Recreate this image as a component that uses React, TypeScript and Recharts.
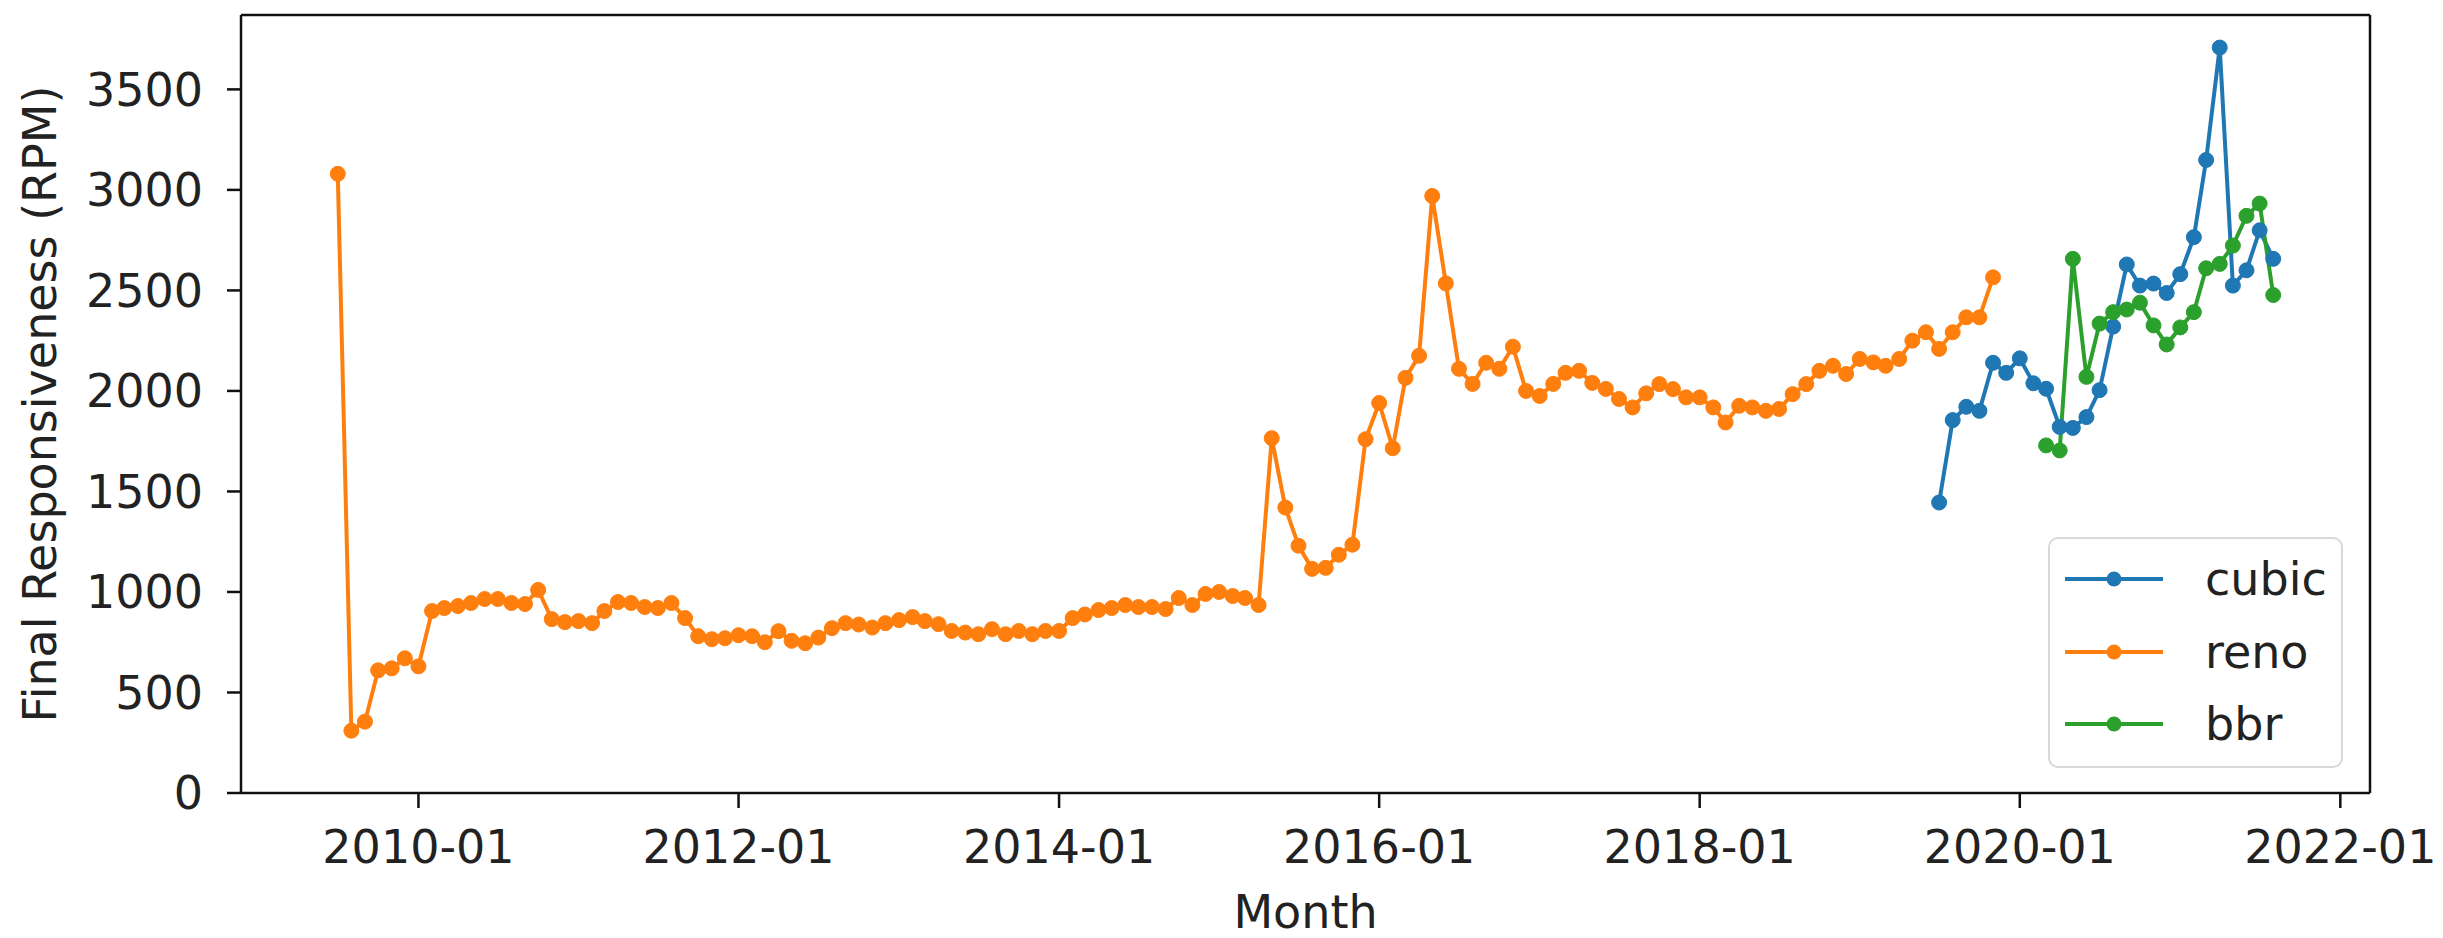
import React from 'react';
import { LineChart, Line, XAxis, YAxis, Legend } from 'recharts';

// first month of each series (RPM)
const renoStart = '2009-07';
const cubicStart = '2019-07';
const bbrStart = '2020-03';

const renoValues = [
    3080, 310, 355, 610, 620, 670,
    630, 905, 920, 930, 945, 965, 965, 945, 940, 1010, 865, 850,
    855, 845, 905, 950, 945, 925, 920, 945, 870, 780, 765, 770,
    785, 780, 750, 805, 757, 745, 773, 820, 845, 838, 823, 845,
    860, 875, 855, 840, 806, 798, 790, 815, 790, 806, 790, 806,
    806, 870, 888, 910, 920, 935, 925, 925, 915, 970, 935, 990,
    1000, 980, 970, 935, 1765, 1420, 1230, 1115, 1120, 1185, 1235, 1760,
    1940, 1715, 2065, 2175, 2970, 2535, 2110, 2035, 2140, 2110, 2220, 2000,
    1975, 2035, 2090, 2100, 2040, 2010, 1960, 1918, 1988, 2034, 2009, 1968,
    1968, 1918, 1843, 1926, 1918, 1901, 1910, 1984, 2034, 2100, 2125, 2084,
    2159, 2142, 2125, 2159, 2250, 2292, 2209, 2292, 2366, 2366, 2565,
];

const cubicValues = [
    1445, 1855, 1921, 1901, 2140, 2090,
    2162, 2038, 2011, 1821, 1816, 1870, 2004, 2320, 2629, 2524, 2534, 2487,
    2581, 2765, 3149, 3708, 2524, 2600, 2799, 2657,
];

const bbrValues = [
    1729, 1704, 2657, 2070, 2335, 2392, 2405, 2439, 2326, 2231,
    2316, 2392, 2610, 2632, 2723, 2871, 2932, 2477,
];

const seriesOrder = ['cubic', 'reno', 'bbr'];
const xTickLabels = ['2010-01', '2012-01', '2014-01', '2016-01', '2018-01', '2020-01', '2022-01'];
const yTicks = [0, 500, 1000, 1500, 2000, 2500, 3000, 3500];

const colors = { cubic: '#1f77b4', reno: '#ff7f0e', bbr: '#2ca02c' };
const FONT = '"DejaVu Sans", sans-serif';
const FS = 46;

const monthRange = (start: string, count: number) => {
    const [y, m] = start.split('-').map(Number);
    return Array.from({ length: count }, (_, i) => {
        const total = y * 12 + (m - 1) + i;
        return `${Math.floor(total / 12)}-${String((total % 12) + 1).padStart(2, '0')}`;
    });
};

const toDay = (label: string) => {
    const [y, m] = label.split('-').map(Number);
    return Date.UTC(y, m - 1, 1) / 86400000;
};

const fmtDay = (t: number) => {
    const d = new Date(Math.round(t) * 86400000);
    return `${d.getUTCFullYear()}-${String(d.getUTCMonth() + 1).padStart(2, '0')}`;
};

const toRows = (start: string, values: number[]) =>
    monthRange(start, values.length).map((month, i) => ({ t: toDay(month), value: values[i] }));

const renoData = toRows(renoStart, renoValues);
const cubicData = toRows(cubicStart, cubicValues);
const bbrData = toRows(bbrStart, bbrValues);

// matplotlib style 5% margins on x, y pinned at 0
const allT = [...renoData, ...cubicData, ...bbrData].map(d => d.t);
const tMin = Math.min(...allT);
const tMax = Math.max(...allT);
const pad = (tMax - tMin) * 0.05;
const xDomain = [tMin - pad, tMax + pad];
const yDomain = [0, 3870];

const spine = { stroke: '#111', strokeWidth: 2.5 };
const LW = 4;
const DOT_R = 7.5;

const renderLegend = (props: any) => {
    const items = [...(props.payload || [])].sort(
        (a: any, b: any) => seriesOrder.indexOf(a.value) - seriesOrder.indexOf(b.value)
    );
    return (
        <div
            style={{
                boxSizing: 'border-box',
                width: 295,
                height: 231,
                border: '2px solid #d9d9d9',
                borderRadius: 10,
                background: 'rgba(255,255,255,0.85)',
                paddingTop: 4,
                fontFamily: FONT,
                fontSize: FS,
                color: '#222',
            }}
        >
            {items.map((entry: any) => (
                <div key={entry.value} style={{ display: 'flex', alignItems: 'center', height: 72.5 }}>
                    <svg width={155} height={30} style={{ flex: 'none' }}>
                        <line x1={15} x2={113} y1={15} y2={15} stroke={entry.color} strokeWidth={LW} />
                        <circle cx={64} cy={15} r={DOT_R} fill={entry.color} />
                    </svg>
                    <span style={{ lineHeight: 1 }}>{entry.value}</span>
                </div>
            ))}
        </div>
    );
};

const App: React.FC = () => {
    const tickStyle = { fontSize: FS, fontFamily: FONT, fill: '#222' };
    return (
        <div style={{ position: 'absolute', left: 0, top: 0, background: '#fff' }}>
            <LineChart width={2443} height={938} margin={{ top: 13, right: 71, bottom: 0, left: 0 }}>
                <XAxis
                    dataKey="t"
                    type="number"
                    domain={xDomain}
                    allowDataOverflow
                    ticks={xTickLabels.map(toDay)}
                    tickFormatter={fmtDay}
                    height={145}
                    tick={tickStyle}
                    tickSize={15}
                    tickMargin={22}
                    axisLine={spine}
                    tickLine={spine}
                    label={{
                        value: 'Month',
                        position: 'insideBottom',
                        offset: 10,
                        style: { fontSize: FS, fontFamily: FONT, fill: '#222' },
                    }}
                />
                <XAxis
                    xAxisId="top"
                    orientation="top"
                    dataKey="t"
                    type="number"
                    domain={xDomain}
                    allowDataOverflow
                    height={2}
                    ticks={[]}
                    tick={false}
                    tickLine={false}
                    axisLine={spine}
                />
                <YAxis
                    type="number"
                    domain={yDomain}
                    allowDataOverflow
                    ticks={yTicks}
                    width={241}
                    tick={tickStyle}
                    tickSize={14}
                    tickMargin={24}
                    axisLine={spine}
                    tickLine={spine}
                    label={{
                        value: 'Final Responsiveness (RPM)',
                        angle: -90,
                        position: 'insideLeft',
                        offset: 40,
                        style: { fontSize: FS, fontFamily: FONT, fill: '#222', textAnchor: 'middle' },
                    }}
                />
                <YAxis
                    yAxisId="right"
                    orientation="right"
                    type="number"
                    domain={yDomain}
                    width={2}
                    ticks={[]}
                    tick={false}
                    tickLine={false}
                    axisLine={spine}
                />
                <Legend
                    layout="vertical"
                    align="center"
                    verticalAlign="middle"
                    content={renderLegend}
                    wrapperStyle={{ position: 'absolute', left: 2048, top: 537, width: 295, height: 231 }}
                />
                <Line
                    data={cubicData}
                    dataKey="value"
                    name="cubic"
                    stroke={colors.cubic}
                    strokeWidth={LW}
                    dot={{ r: DOT_R, fill: colors.cubic, stroke: colors.cubic, strokeWidth: 1 }}
                    activeDot={false}
                    isAnimationActive={false}
                />
                <Line
                    data={renoData}
                    dataKey="value"
                    name="reno"
                    stroke={colors.reno}
                    strokeWidth={LW}
                    dot={{ r: DOT_R, fill: colors.reno, stroke: colors.reno, strokeWidth: 1 }}
                    activeDot={false}
                    isAnimationActive={false}
                />
                <Line
                    data={bbrData}
                    dataKey="value"
                    name="bbr"
                    stroke={colors.bbr}
                    strokeWidth={LW}
                    dot={{ r: DOT_R, fill: colors.bbr, stroke: colors.bbr, strokeWidth: 1 }}
                    activeDot={false}
                    isAnimationActive={false}
                />
            </LineChart>
        </div>
    );
};

export default App;
